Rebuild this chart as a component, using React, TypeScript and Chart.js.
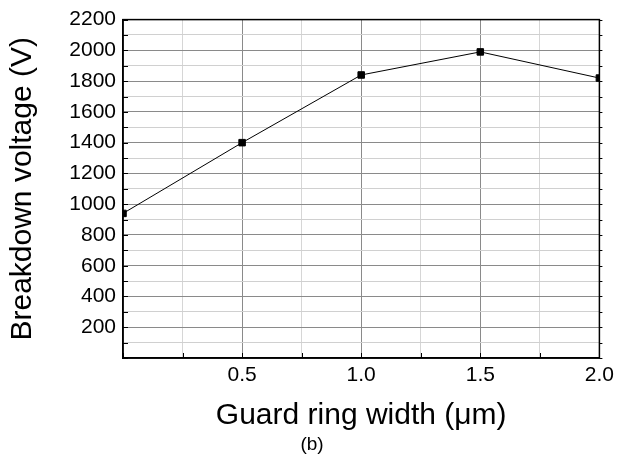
import React, { useEffect, useRef } from 'react';
import { Chart, registerables } from 'chart.js';

Chart.register(...registerables);

const guardRingWidths = [0, 0.5, 1.0, 1.5, 2.0];
const breakdownVoltages = [940, 1400, 1840, 1990, 1820];
const yTickLabels = [200, 400, 600, 800, 1000, 1200, 1400, 1600, 1800, 2000, 2200];
const xTickLabels = [0.5, 1.0, 1.5, 2.0];

const FONT = '"Liberation Sans", Arial, sans-serif';

const framePlugin = {
  id: 'frame',
  afterDraw(chart: any) {
    const { ctx, chartArea } = chart;
    const { left, right, top, bottom } = chartArea;
    const xs = chart.scales.x;
    const ys = chart.scales.y;
    ctx.save();
    ctx.strokeStyle = '#000';
    ctx.lineWidth = 1;
    ctx.beginPath();
    ys.ticks.forEach((_t: any, i: number) => {
      const py = Math.round(ys.getPixelForTick(i)) + 0.5;
      ctx.moveTo(left, py);
      ctx.lineTo(left + 5, py);
      ctx.moveTo(right, py);
      ctx.lineTo(right + 3, py);
    });
    xs.ticks.forEach((_t: any, i: number) => {
      const px = Math.round(xs.getPixelForTick(i)) + 0.5;
      ctx.moveTo(px, bottom);
      ctx.lineTo(px, bottom - 5);
    });
    ctx.stroke();
    ctx.lineWidth = 1.5;
    ctx.strokeRect(left, top, right - left, bottom - top);
    ctx.fillStyle = '#000';
    ctx.font = '19px ' + FONT;
    ctx.textAlign = 'center';
    ctx.textBaseline = 'middle';
    ctx.fillText('(b)', 312, 445);
    ctx.restore();
  },
};

export default function App() {
  const canvasRef = useRef<HTMLCanvasElement | null>(null);

  useEffect(() => {
    if (!canvasRef.current) return;
    const chart = new Chart(canvasRef.current, {
      type: 'line',
      data: {
        datasets: [
          {
            data: guardRingWidths.map((w, i) => ({ x: w, y: breakdownVoltages[i] })),
            borderColor: '#000',
            borderWidth: 1,
            backgroundColor: '#000',
            pointStyle: 'rect',
            pointRadius: 4.6,
            pointBorderWidth: 1,
            pointBorderColor: '#000',
            pointBackgroundColor: '#000',
            tension: 0,
            fill: false,
            clip: 0,
          } as any,
        ],
      },
      options: {
        animation: false,
        responsive: true,
        maintainAspectRatio: false,
        layout: { padding: { top: 19, right: 16, left: 0, bottom: 0 } },
        plugins: {
          legend: { display: false },
          tooltip: { enabled: false },
        },
        scales: {
          x: {
            type: 'linear',
            min: 0,
            max: 2,
            ticks: {
              stepSize: 0.25,
              autoSkip: false,
              maxRotation: 0,
              padding: 5,
              color: '#000',
              font: { family: FONT, size: 21 },
              callback: (v: any) => (xTickLabels.includes(Number(v)) ? Number(v).toFixed(1) : ''),
            },
            grid: {
              drawTicks: false,
              lineWidth: 1,
              color: (ctx: any) =>
                ctx.tick && xTickLabels.includes(ctx.tick.value) ? '#8a8a8a' : '#d6d6d6',
            },
            border: { color: '#000', width: 1.5 },
            title: {
              display: true,
              text: 'Guard ring width (μm)',
              color: '#000',
              font: { family: FONT, size: 30, lineHeight: 1.2 },
              padding: { top: 0, bottom: 21 },
            },
            afterFit: (s: any) => {
              s.height = 97;
            },
          },
          y: {
            type: 'linear',
            min: 0,
            max: 2200,
            ticks: {
              stepSize: 100,
              autoSkip: false,
              padding: 7,
              color: '#000',
              font: { family: FONT, size: 21 },
              callback: (v: any) => (yTickLabels.includes(Number(v)) ? String(v) : ''),
            },
            grid: {
              drawTicks: false,
              lineWidth: 1,
              color: (ctx: any) =>
                ctx.tick && ctx.tick.value % 200 === 0 ? '#8a8a8a' : '#d0d0d0',
            },
            border: { color: '#000', width: 1.5 },
            title: {
              display: true,
              text: 'Breakdown voltage (V)',
              color: '#000',
              font: { family: FONT, size: 30, lineHeight: 1.2 },
              padding: { top: 5, bottom: 0 },
            },
            afterFit: (s: any) => {
              s.width = 123;
            },
          },
        },
      } as any,
      plugins: [framePlugin],
    });
    return () => chart.destroy();
  }, []);

  return (
    <div style={{ position: 'absolute', left: 0, top: 0, width: 619, height: 455 }}>
      <canvas ref={canvasRef} />
    </div>
  );
}
